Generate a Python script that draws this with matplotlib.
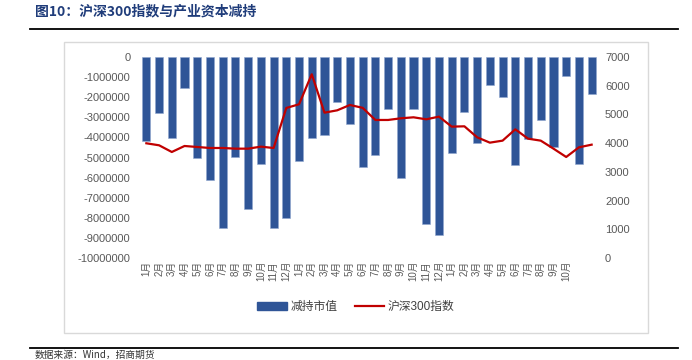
import matplotlib
matplotlib.use("Agg")
import matplotlib.pyplot as plt
from matplotlib.patches import Rectangle
from matplotlib.lines import Line2D

plt.rcParams['font.family'] = ['Liberation Sans', 'Noto Sans CJK SC']

months = ([f"{m}月" for m in range(1, 13)] + [f"{m}月" for m in range(1, 13)]
          + [f"{m}月" for m in range(1, 11)] + ["", ""])
reduction = [-4160000, -2800000, -4030000, -1560000, -5040000, -6140000, -8520000,
             -4990000, -7560000, -5340000, -8520000, -7990000, -5190000, -4050000,
             -3900000, -2240000, -3350000, -5460000, -4890000, -2600000, -6040000,
             -2590000, -8310000, -8860000, -4780000, -2750000, -4290000, -1390000,
             -1990000, -5390000, -4100000, -3130000, -4480000, -950000, -5320000,
             -1840000]
hs300 = [3995, 3925, 3692, 3901, 3866, 3831, 3831, 3808, 3808, 3878, 3831, 5225,
         5353, 6398, 5062, 5143, 5329, 5230, 4807, 4807, 4865, 4900, 4830, 4923,
         4575, 4586, 4203, 4017, 4087, 4481, 4156, 4087, 3808, 3518, 3854, 3947]

W, H = 692, 360
fig = plt.figure(figsize=(W / 100, H / 100), dpi=100)


def fx(px):
    return px / W


def fy(py):
    return 1 - py / H


fig.text(fx(35), fy(11), "图10：沪深300指数与产业资本减持", fontsize=10, fontweight="bold",
         color="#1f3c7a", va="center", ha="left", family=['Noto Sans CJK SC'])
fig.add_artist(Line2D([fx(30), fx(678)], [fy(29), fy(29)], color="black", lw=1.3))
fig.add_artist(Line2D([fx(30), fx(678)], [fy(348), fy(348)], color="black", lw=1.3))
fig.add_artist(Rectangle((fx(64), fy(333)), fx(648) - fx(64), fy(42) - fy(333),
                         fill=False, edgecolor="#d9d9d9", lw=1))
# source line sits at the very bottom edge in the original
fig.text(fx(35), fy(355), "数据来源：Wind，招商期货", fontsize=7, color="#333333",
         va="center", ha="left", family=['Noto Sans CJK SC'])

ax = fig.add_axes([fx(140), fy(258), fx(598) - fx(140), fy(57) - fy(258)])
x = list(range(len(reduction)))
ax.bar(x, reduction, width=0.64, color="#2f5597", edgecolor="#8fa6cf", linewidth=0.4,
       label="减持市值", zorder=1)
ax.set_ylim(-10000000, 0)
ax.set_yticks(range(-10000000, 1, 1000000))
ax.set_yticklabels([str(v) for v in range(-10000000, 1, 1000000)])
ax.set_xlim(-0.5, len(reduction) - 0.5)
ax.set_xticks(x)
ax.set_xticklabels(months, rotation=90, fontsize=7, color="#595959")
ax.tick_params(axis="y", labelsize=8, colors="#595959", length=0, pad=7)
ax.tick_params(axis="x", length=0, pad=2)
for s in ax.spines.values():
    s.set_visible(False)

ax2 = ax.twinx()
ax2.plot(x, hs300, color="#c00000", lw=1.6, label="沪深300指数", zorder=3)
ax2.set_ylim(0, 7000)
ax2.set_yticks(range(0, 7001, 1000))
ax2.tick_params(axis="y", labelsize=8, colors="#595959", length=0, pad=5)
for s in ax2.spines.values():
    s.set_visible(False)

handles = [Rectangle((0, 0), 1, 1, color="#2f5597"),
           Line2D([0], [0], color="#c00000", lw=1.6)]
fig.legend(handles, ["减持市值", "沪深300指数"], loc="center", ncol=2,
           bbox_to_anchor=(fx(356), fy(307)), frameon=False, fontsize=8.5,
           handlelength=2.5, handleheight=0.7, columnspacing=1.5, handletextpad=0.3,
           labelcolor="#404040")

fig.savefig("out.png", dpi=100)
